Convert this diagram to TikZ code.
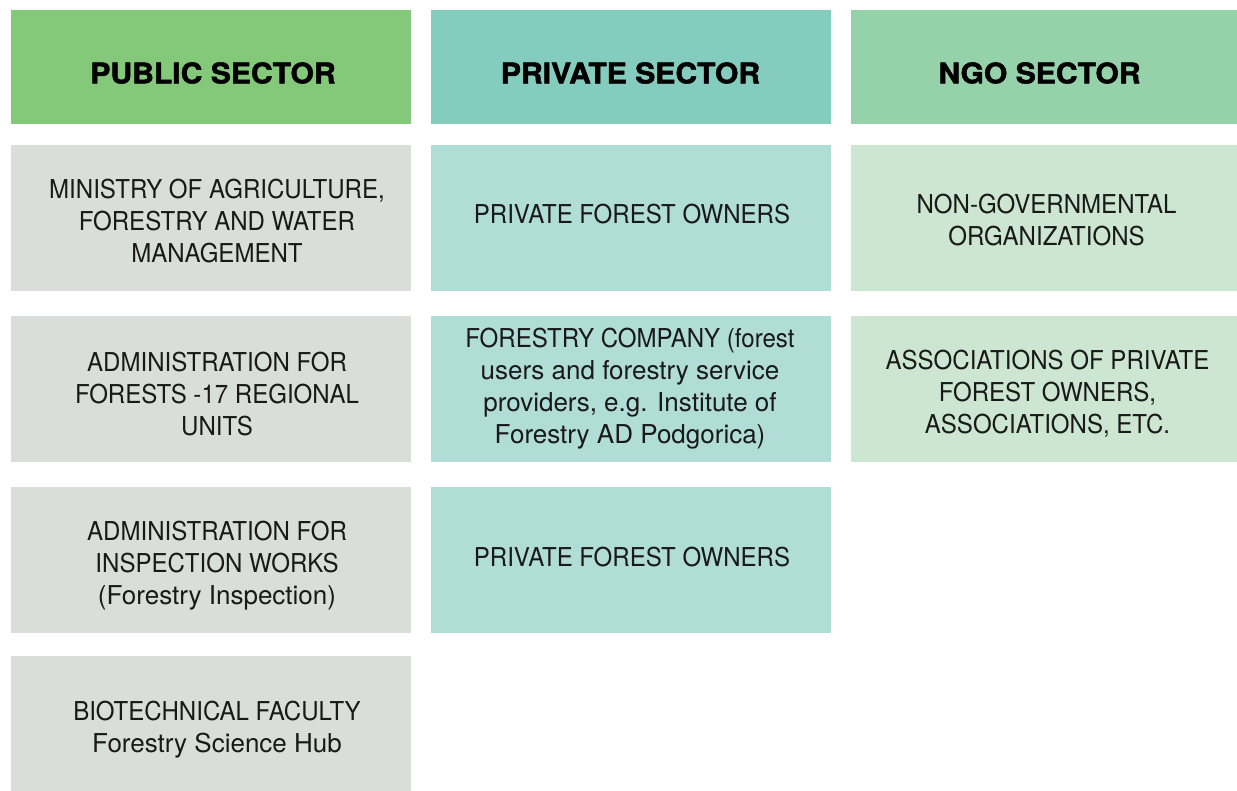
\documentclass[tikz,border=0pt]{standalone}
\usepackage{fontspec}
\setmainfont{TeX Gyre Heros}
\newfontfamily\bodyfont[FakeStretch=0.925]{TeX Gyre Heros}
\newfontfamily\lcfont[FakeStretch=1.0]{TeX Gyre Heros}
\newfontfamily\headfont[FakeStretch=1.06,FakeBold=1.8]{TeX Gyre Heros Bold}
\definecolor{hA}{HTML}{84C87A}
\definecolor{hB}{HTML}{84CCBE}
\definecolor{hC}{HTML}{95D2AA}
\definecolor{bA}{HTML}{D9DEDB}
\definecolor{bB}{HTML}{B0DDD6}
\definecolor{bC}{HTML}{CCE6D1}
\tikzset{
  box/.style={inner sep=0pt, draw=none},
  txt/.style={inner sep=0pt, align=center, font=\bodyfont\fontsize{19.5}{24}\selectfont, text=black!90},
  head/.style={inner sep=0pt, align=center, font=\headfont\fontsize{21.3}{24}\selectfont, text=black},
  wA/.style={minimum width=300pt},
  wC/.style={minimum width=289.5pt},
  hh/.style={minimum height=85.5pt},
  hr/.style={minimum height=109.5pt},
}
\begin{document}
\begin{tikzpicture}[x=0.75pt,y=-0.75pt]
\useasboundingbox[fill=white] (0,0) rectangle (1237,791);
% boxes
\node (h1) [box,wA,hh,fill=hA] at (211,67) {};
\node (h2) [box,wA,hh,fill=hB] at (631,67) {};
\node (h3) [box,wC,hh,fill=hC] at (1044,67) {};
\node (p1) [box,wA,hr,fill=bA] at (211,218.5) {};
\node (p2) [box,wA,hr,fill=bA] at (211,388.5) {};
\node (p3) [box,wA,hr,fill=bA] at (211,559.5) {};
\node (p4) [box,wA,minimum height=101.25pt,fill=bA] at (211,723.5) {};
\node (r1) [box,wA,hr,fill=bB] at (631,218.5) {};
\node (r2) [box,wA,hr,fill=bB] at (631,388.5) {};
\node (r3) [box,wA,hr,fill=bB] at (631,559.5) {};
\node (n1) [box,wC,hr,fill=bC] at (1044,218.5) {};
\node (n2) [box,wC,hr,fill=bC] at (1044,388.5) {};
% header texts
\node (h1t) [head] at (213,73) {PUBLIC SECTOR};
\node (h2t) [head] at (630.5,73) {PRIVATE SECTOR};
\node (h3t) [head] at (1039.5,73) {NGO SECTOR};
% body texts
\node (p1t) [txt] at (217,221) {MINISTRY OF AGRICULTURE,\\FORESTRY AND WATER\\MANAGEMENT};
\node (p2t) [txt] at (217,394) {ADMINISTRATION FOR\\FORESTS -17 REGIONAL\\UNITS};
\node (p3t) [txt] at (217,566) {ADMINISTRATION FOR\\INSPECTION WORKS\\{\lcfont(Forestry Inspection)}};
\node (p4t) [txt] at (217,730) {BIOTECHNICAL FACULTY\\{\lcfont Forestry Science Hub}};
\node (r1t) [txt] at (632,214) {PRIVATE FOREST OWNERS};
\node (r2t) [txt] at (630,389) {FORESTRY COMPANY (forest\\{\lcfont users and forestry service}\\{\lcfont providers, e.g. Institute of}\\{\lcfont Forestry AD Podgorica)}};
\node (r3t) [txt] at (632,557) {PRIVATE FOREST OWNERS};
\node (n1t) [txt] at (1046.5,220) {NON-GOVERNMENTAL\\ORGANIZATIONS};
\node (n2t) [txt] at (1047.5,394) {ASSOCIATIONS OF PRIVATE\\FOREST OWNERS,\\ASSOCIATIONS, ETC.};
\end{tikzpicture}
\end{document}
